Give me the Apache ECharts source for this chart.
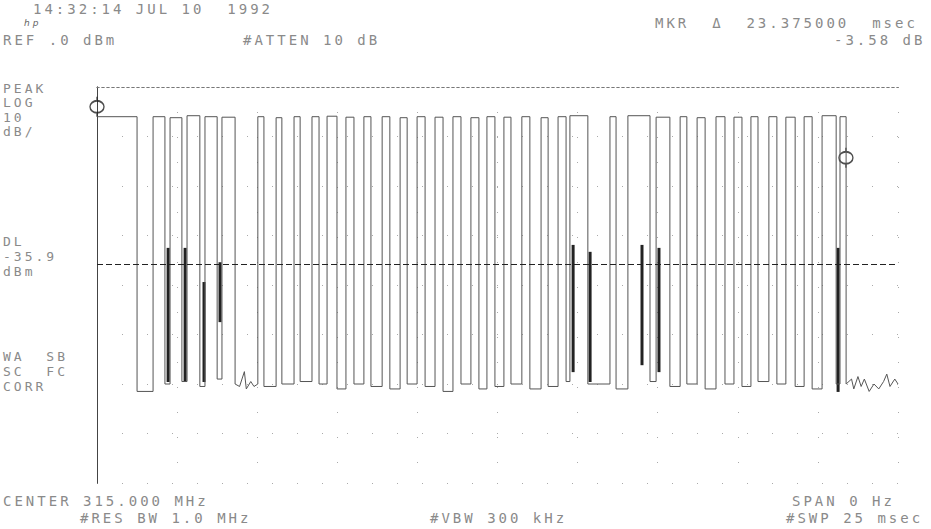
<!DOCTYPE html>
<html><head><meta charset="utf-8">
<script src="https://cdn.jsdelivr.net/npm/echarts@6/dist/echarts.min.js"></script>
<style>html,body{margin:0;padding:0;background:#fff}#c{width:931px;height:529px}#c text{letter-spacing:3px}</style>
</head><body><div id="c"></div><script>
// time in msec (zero span, 25 msec sweep), level in dBm
const pulseRise = [0, 1.75, 2.28, 2.81, 3.37, 3.90, 5.02, 5.59, 6.15, 6.71, 7.18, 7.77, 8.33, 8.90, 9.46, 9.99, 10.55, 11.11, 11.67, 12.17, 12.70, 13.26, 13.86, 14.39, 14.76, 16.01, 16.57, 17.45, 18.20, 18.73, 19.32, 19.88, 20.41, 20.97, 21.50, 22.07, 22.63, 23.19];
const pulseFall = [1.25, 2.12, 2.65, 3.21, 3.75, 4.31, 5.21, 5.77, 6.34, 6.93, 7.49, 8.02, 8.55, 9.14, 9.68, 10.24, 10.80, 11.36, 11.92, 12.42, 12.92, 13.51, 14.08, 14.64, 15.32, 16.20, 17.26, 17.88, 18.41, 18.98, 19.60, 20.13, 20.63, 21.22, 21.79, 22.32, 23.07, 23.38];
const pulseTop = [-6.0, -6.0, -6.2, -5.8, -6.0, -6.1, -6.0, -6.2, -6.0, -6.0, -5.9, -6.1, -6.0, -6.0, -6.2, -6.0, -6.1, -6.0, -6.2, -6.0, -6.1, -6.0, -6.2, -6.0, -5.8, -6.0, -5.8, -6.1, -6.0, -6.2, -6.0, -6.1, -6.0, -6.0, -6.1, -6.0, -5.8, -6.0];
const lowLevel = [-61.5, -60.0, -59.5, -60.5, -59.0, -60.0, -60.5, -60.0, -59.5, -60.0, -61.0, -60.0, -60.5, -61.0, -60.0, -60.5, -61.5, -60.0, -61.0, -60.5, -60.0, -61.0, -60.5, -59.5, -60.0, -61.0, -59.5, -60.5, -60.0, -61.0, -60.0, -60.5, -59.5, -60.0, -60.5, -61.0, -60.0];
const gapNoiseTime = [4.45, 4.60, 4.66, 4.80, 4.90];
const gapNoiseLevel = [-60.5, -57.5, -61.0, -59.5, -60.5];
const tailNoiseTime = [23.38, 23.55, 23.62, 23.75, 23.85, 23.95, 24.10, 24.25, 24.40, 24.55, 24.65, 24.75, 24.90, 25.00];
const tailNoiseLevel = [-60.0, -59.0, -61.0, -58.5, -60.5, -59.0, -61.5, -60.0, -61.0, -59.5, -58.0, -60.5, -59.0, -60.0];
const boldTime = [2.22, 2.75, 3.34, 3.84, 14.86, 15.39, 17.01, 17.54, 23.13];
const boldTop = [-32.5, -32.5, -39.4, -35.4, -31.9, -33.3, -31.9, -32.5, -32.5];
const boldBottom = [-59.6, -59.6, -59.6, -47.5, -57.6, -59.6, -56.2, -57.6, -61.6];
const markerTime = [0, 23.375];
const markerLevel = [-4.0, -14.3];
const displayLine = -35.9;

const trace = [];
for (let i = 0; i < pulseRise.length; i++) {
  const last = i === pulseRise.length - 1;
  const low = last ? tailNoiseLevel[0] : lowLevel[i];
  if (i === 0) trace.push([pulseRise[i], pulseTop[i]]);
  else { trace.push([pulseRise[i], lowLevel[i - 1]]); trace.push([pulseRise[i], pulseTop[i]]); }
  trace.push([pulseFall[i], pulseTop[i]]);
  trace.push([pulseFall[i], low]);
  if (i === 5) gapNoiseTime.forEach((t, k) => trace.push([t, gapNoiseLevel[k]]));
}
tailNoiseTime.forEach((t, k) => { if (k > 0) trace.push([t, tailNoiseLevel[k]]); });

const bold = boldTime.map((t, i) => [t, boldTop[i], boldBottom[i]]);
const markers = markerTime.map((t, i) => [t, markerLevel[i]]);

const FONT = '14px "DejaVu Sans Mono"';
const TC = '#8a8a8a';
function txt(x, y, s, lh) {
  return { type: 'text', left: x, top: y - 7,
    style: { text: s, font: lh ? '13px "DejaVu Sans Mono"' : FONT, fill: TC, lineHeight: lh || 16 } };
}

const chart = echarts.init(document.getElementById('c'), null, { renderer: 'svg' });
chart.setOption({
  backgroundColor: '#fff',
  animation: false,
  grid: { left: 97, right: 33, top: 87, bottom: 46 },
  xAxis: [
    { type: 'value', min: 0, max: 25, interval: 2.5, position: 'bottom',
      axisLine: { show: true, lineStyle: { color: '#777', width: 1, type: [2, 3] } },
      axisTick: { show: false }, axisLabel: { show: false },
      splitLine: { show: true, lineStyle: { color: '#aaa', width: 1, type: [1, 24] } } },
    { type: 'value', min: 0, max: 25, interval: 2.5, position: 'top',
      axisLine: { show: true, lineStyle: { color: '#777', width: 1, type: [2, 3] } },
      axisTick: { show: false }, axisLabel: { show: false }, splitLine: { show: false } }
  ],
  yAxis: [
    { type: 'value', min: -80, max: 0, interval: 10, position: 'left',
      axisLine: { show: true, lineStyle: { color: '#555', width: 1, type: [5, 2] } },
      axisTick: { show: false }, axisLabel: { show: false },
      splitLine: { show: true, lineStyle: { color: '#aaa', width: 1, type: [1, 24] } } },
    { type: 'value', min: -80, max: 0, interval: 10, position: 'right',
      axisLine: { show: true, lineStyle: { color: '#444', width: 1 } },
      axisTick: { show: false }, axisLabel: { show: false }, splitLine: { show: false } }
  ],
  series: [
    { type: 'line', data: trace, showSymbol: false, symbol: 'none',
      lineStyle: { color: '#555', width: 1 },
      markLine: { silent: true, symbol: 'none', label: { show: false },
        lineStyle: { color: '#222', width: 1, type: [6, 3] }, data: [{ yAxis: displayLine }] } },
    { type: 'custom', data: bold,
      renderItem: (params, api) => {
        const a = api.coord([api.value(0), api.value(1)]);
        const b = api.coord([api.value(0), api.value(2)]);
        return { type: 'line', shape: { x1: a[0], y1: a[1], x2: b[0], y2: b[1] },
          style: { stroke: '#222', lineWidth: 3 } };
      } },
    { type: 'scatter', data: markers, symbol: 'path://M10,0 L10,4 M10,16 L10,20 M16,10 A6,6 0 1 1 4,10 A6,6 0 1 1 16,10 Z',
      symbolSize: [14, 20], itemStyle: { color: 'none', borderColor: '#222', borderWidth: 1.6 } }
  ],
  graphic: [
    txt(33, 8, '14:32:14 JUL 10  1992'),
    { type: 'text', left: 24, top: 18, style: { text: 'hp', font: 'italic 9px "DejaVu Sans"', fill: '#666' } },
    txt(3, 39, 'REF .0 dBm'),
    txt(243, 39, '#ATTEN 10 dB'),
    txt(655, 22, 'MKR  \u0394  23.375000  msec'),
    txt(834, 39, '-3.58 dB'),
    txt(3, 88, 'PEAK\nLOG\n10\ndB/', 14.5),
    txt(3, 241, 'DL\n-35.9\ndBm', 15),
    txt(3, 356, 'WA  SB\nSC  FC\nCORR', 15),
    txt(3, 500, 'CENTER 315.000 MHz'),
    txt(80, 517, '#RES BW 1.0 MHz'),
    txt(430, 517, '#VBW 300 kHz'),
    txt(792, 500, 'SPAN 0 Hz'),
    txt(786, 517, '#SWP 25 msec')
  ]
});
</script></body></html>
